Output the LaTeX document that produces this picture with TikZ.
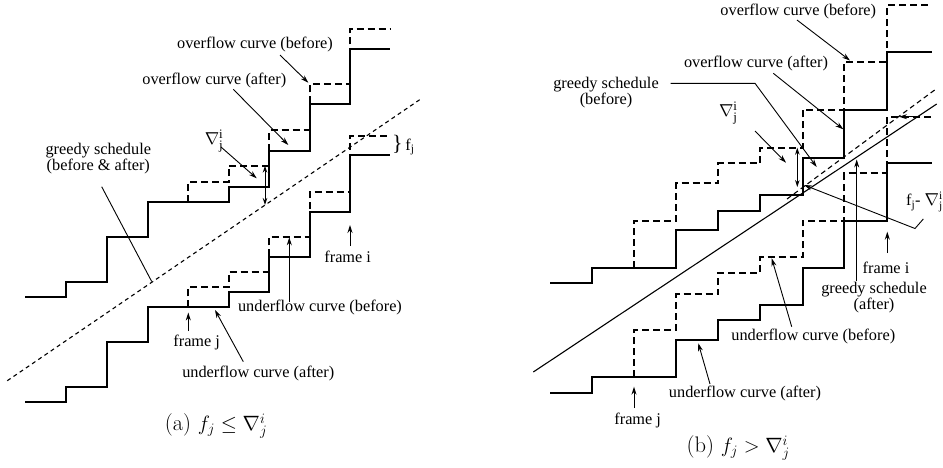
\documentclass[tikz,border=0pt]{standalone}
\usepackage{fontspec}
\setmainfont{Liberation Serif}
\newfontfamily\lmr{Latin Modern Roman}
\usetikzlibrary{arrows.meta}
\tikzset{
  curve/.style={line width=1.7pt},
  dcurve/.style={line width=1.7pt, dash pattern=on 7pt off 4pt},
  lbl/.style={font=\fontsize{16.3}{14.5}\selectfont, inner sep=0pt, align=center},
  nlbl/.style={font=\fontsize{18.5}{18}\selectfont, inner sep=0pt},
  capt/.style={font=\fontsize{22.5}{26}\selectfont\lmr, inner sep=0pt},
  arr/.style={line width=0.9pt, -{Stealth[length=8pt,width=5pt]}},
  darr/.style={line width=0.9pt, {Stealth[length=7pt,width=4.5pt]}-{Stealth[length=7pt,width=4.5pt]}},
  lne/.style={line width=0.9pt},
  greedyd/.style={line width=1.1pt, dash pattern=on 4pt off 3.5pt},
  greedys/.style={line width=1.1pt},
  greedyb/.style={line width=1.1pt, dash pattern=on 5pt off 3.5pt},
}
\newcommand{\nbl}{$\nabla^{\mathrm{i}}_{\mathrm{j}}$}
\begin{document}
\begin{tikzpicture}[x=1pt,y=-1pt]
\useasboundingbox (0,0) rectangle (943,467);

% ================= (a) =================
% overflow curve (after)
\draw[curve] (25,296.7) -- (65.7,296.7) -- (65.7,281.7) -- (106.7,281.7) -- (106.7,237)
  -- (148,237) -- (148,201.7) -- (228.7,201.7) -- (228.7,186.7) -- (269.3,186.7)
  -- (269.3,151) -- (310,151) -- (310,104.3) -- (350,104.3) -- (350,49) -- (390,49);
% overflow curve (before)
\draw[dcurve] (188.3,201.7) -- (188.3,181.7) -- (228.7,181.7) -- (228.7,165.7) -- (269.3,165.7)
  -- (269.3,130) -- (310,130) -- (310,84.3) -- (350,84.3) -- (350,29) -- (390,29);
% underflow curve (after)
\draw[curve] (25,402.3) -- (65.7,402.3) -- (65.7,386.7) -- (106.7,386.7) -- (106.7,342.3)
  -- (148,342.3) -- (148,307.3) -- (228.7,307.3) -- (228.7,292) -- (269.3,292)
  -- (269.3,256.7) -- (310,256.7) -- (310,211.7) -- (350,211.7) -- (350,155) -- (390,155);
% underflow curve (before)
\draw[dcurve] (188.3,307.3) -- (188.3,287.3) -- (228.7,287.3) -- (228.7,271.7) -- (269.3,271.7)
  -- (269.3,236.7) -- (310,236.7) -- (310,191.7) -- (350,191.7) -- (350,136) -- (390,136);
% greedy schedule
\coordinate (ga1) at (7.3,380.7);
\coordinate (ga2) at (420.7,99);
\draw[greedyd] (ga1) -- (ga2);

% labels (a)
\node[lbl] (ocbA) at (255,44.3) {overflow curve (before)};
\coordinate (ocbAs) at (280,55);   \coordinate (ocbAt) at (308.3,82.7);
\draw[arr] (ocbAs) -- (ocbAt);

\node[lbl] (ocaA) at (214.3,80) {overflow curve (after)};
\coordinate (ocaAs) at (233.3,89.3); \coordinate (ocaAt) at (288.3,145);
\draw[arr] (ocaAs) -- (ocaAt);

\node[nlbl] (nbA) at (214,141) {\nbl};
\coordinate (nbAs) at (221,147); \coordinate (nbAt) at (256.7,178.3);
\draw[arr] (nbAs) -- (nbAt);
\coordinate (dA1) at (265,165.7); \coordinate (dA2) at (265,205);
\draw[darr] (dA1) -- (dA2);

\node[lbl] (gsA) at (98.3,159) {greedy schedule\\(before \& after)};
\coordinate (gsAs) at (101.7,186.7); \coordinate (gsAt) at (151.7,281.5);
\draw[lne] (gsAs) -- (gsAt);

\node[lbl, anchor=west] (fjA) at (392,145) {{\fontsize{22}{22}\selectfont\}}\,f\textsubscript{j}};

\node[lbl] (fiA) at (347.7,256.7) {frame i};
\coordinate (fiAs) at (350,246); \coordinate (fiAt) at (350,225);
\draw[arr] (fiAs) -- (fiAt);

\node[lbl] (ucbA) at (320,307.7) {underflow curve (before)};
\coordinate (ucbAs) at (289.3,301.7); \coordinate (ucbAt) at (289.3,237.3);
\draw[arr] (ucbAs) -- (ucbAt);

\node[lbl] (fjjA) at (196.7,342.3) {frame j};
\coordinate (fjjAs) at (188.3,331); \coordinate (fjjAt) at (188.3,312.5);
\draw[arr] (fjjAs) -- (fjjAt);

\node[lbl] (ucaA) at (258.3,373.3) {underflow curve (after)};
\coordinate (ucaAs) at (243.3,361.7); \coordinate (ucaAt) at (215,310);
\draw[arr] (ucaAs) -- (ucaAt);

\node[capt] (capA) at (216,426) {(a) $f_j \leq \nabla_j^i$};

% ================= (b) =================
% overflow curve (after)
\draw[curve] (550,283.3) -- (591.7,283.3) -- (591.7,267.7) -- (676,267.7) -- (676,230)
  -- (718.3,230) -- (718.3,210.7) -- (760,210.7) -- (760,195) -- (802.7,195)
  -- (802.7,158.3) -- (844.3,158.3) -- (844.3,110) -- (887.3,110) -- (887.3,52.3) -- (931.7,52.3);
% overflow curve (before)
\draw[dcurve] (634,267.7) -- (634,220.7) -- (676,220.7) -- (676,183.3) -- (718.3,183.3)
  -- (718.3,163.3) -- (760,163.3) -- (760,147.7) -- (802.7,147.7) -- (802.7,110)
  -- (844.3,110) -- (844.3,61.7) -- (887.3,61.7) -- (887.3,5) -- (931.7,5);
% underflow curve (after)
\draw[curve] (550,393.3) -- (591.7,393.3) -- (591.7,376.7) -- (676,376.7) -- (676,340)
  -- (718.3,340) -- (718.3,320) -- (760,320) -- (760,305) -- (802.7,305)
  -- (802.7,267.7) -- (844.3,267.7) -- (844.3,220.7) -- (887.3,220.7) -- (887.3,163.3) -- (931.7,163.3);
% underflow curve (before)
\draw[dcurve] (634,376.7) -- (634,330) -- (676,330) -- (676,294.3) -- (718.3,294.3)
  -- (718.3,272.7) -- (760,272.7) -- (760,257.3) -- (802.7,257.3) -- (802.7,220.7)
  -- (844.3,220.7) -- (844.3,173.3) -- (887.3,173.3) -- (887.3,116.7) -- (931.7,116.7);
% greedy schedules
\coordinate (gb1) at (533.3,372);
\coordinate (gb2) at (936.7,104);
\draw[greedys] (gb1) -- (gb2);
\coordinate (gbb1) at (787,199);
\coordinate (gbb2) at (936.7,88.5);
\draw[greedyb] (gbb1) -- (gbb2);

% labels (b)
\node[lbl] (ocbB) at (798.3,11.7) {overflow curve (before)};
\coordinate (ocbBs) at (797,20); \coordinate (ocbBt) at (850,60.5);
\draw[arr] (ocbBs) -- (ocbBt);

\node[lbl] (ocaB) at (756,63.3) {overflow curve (after)};
\coordinate (ocaBs) at (773.3,73.3); \coordinate (ocaBt) at (843.3,129.3);
\draw[arr] (ocaBs) -- (ocaBt);

\node[lbl] (gsbB) at (606,92.5) {greedy schedule\\(before)};
\coordinate (gsbBs) at (670.7,83.3); \coordinate (gsbBm) at (755,83.3); \coordinate (gsbBt) at (816.7,167);
\draw[arr] (gsbBs) -- (gsbBm) -- (gsbBt);

\node[nlbl] (nbB) at (728.3,113) {\nbl};
\coordinate (nbBs) at (755,131); \coordinate (nbBt) at (786,162.7);
\draw[arr] (nbBs) -- (nbBt);
\coordinate (dB1) at (797.3,147.7); \coordinate (dB2) at (797.3,187);
\draw[darr] (dB1) -- (dB2);

\node[lbl, anchor=east] (fdB) at (943,202) {f\textsubscript{j}- \nbl};
\coordinate (fdBs) at (923.3,219); \coordinate (fdBm) at (915,228.5); \coordinate (fdBt) at (804,185);
\draw[arr] (fdBs) -- (fdBm) -- (fdBt);
\coordinate (smBs) at (914,116.7); \coordinate (smBt) at (899,116.7);
\draw[arr] (smBs) -- (smBt);

\node[lbl] (fiB) at (886,268.3) {frame i};
\coordinate (fiBs) at (887.3,253); \coordinate (fiBt) at (887.3,231.7);
\draw[arr] (fiBs) -- (fiBt);

\node[lbl] (gsaB) at (874,297.5) {greedy schedule\\(after)};
\coordinate (gsaBs) at (856.7,281); \coordinate (gsaBt) at (856.7,159.5);
\draw[arr] (gsaBs) -- (gsaBt);

\node[lbl] (ucbB) at (813.3,336.7) {underflow curve (before)};
\coordinate (ucbBs) at (791.7,326.7); \coordinate (ucbBt) at (771.7,258.3);
\draw[arr] (ucbBs) -- (ucbBt);

\node[lbl] (ucaB) at (745,393.3) {underflow curve (after)};
\coordinate (ucaBs) at (710,384); \coordinate (ucaBt) at (698.3,343.3);
\draw[arr] (ucaBs) -- (ucaBt);

\node[lbl] (fjjB) at (637.7,420) {frame j};
\coordinate (fjjBs) at (634,408); \coordinate (fjjBt) at (634,386.7);
\draw[arr] (fjjBs) -- (fjjBt);

\node[capt] (capB) at (738.3,448) {(b) $f_j > \nabla_j^i$};
\end{tikzpicture}
\end{document}
